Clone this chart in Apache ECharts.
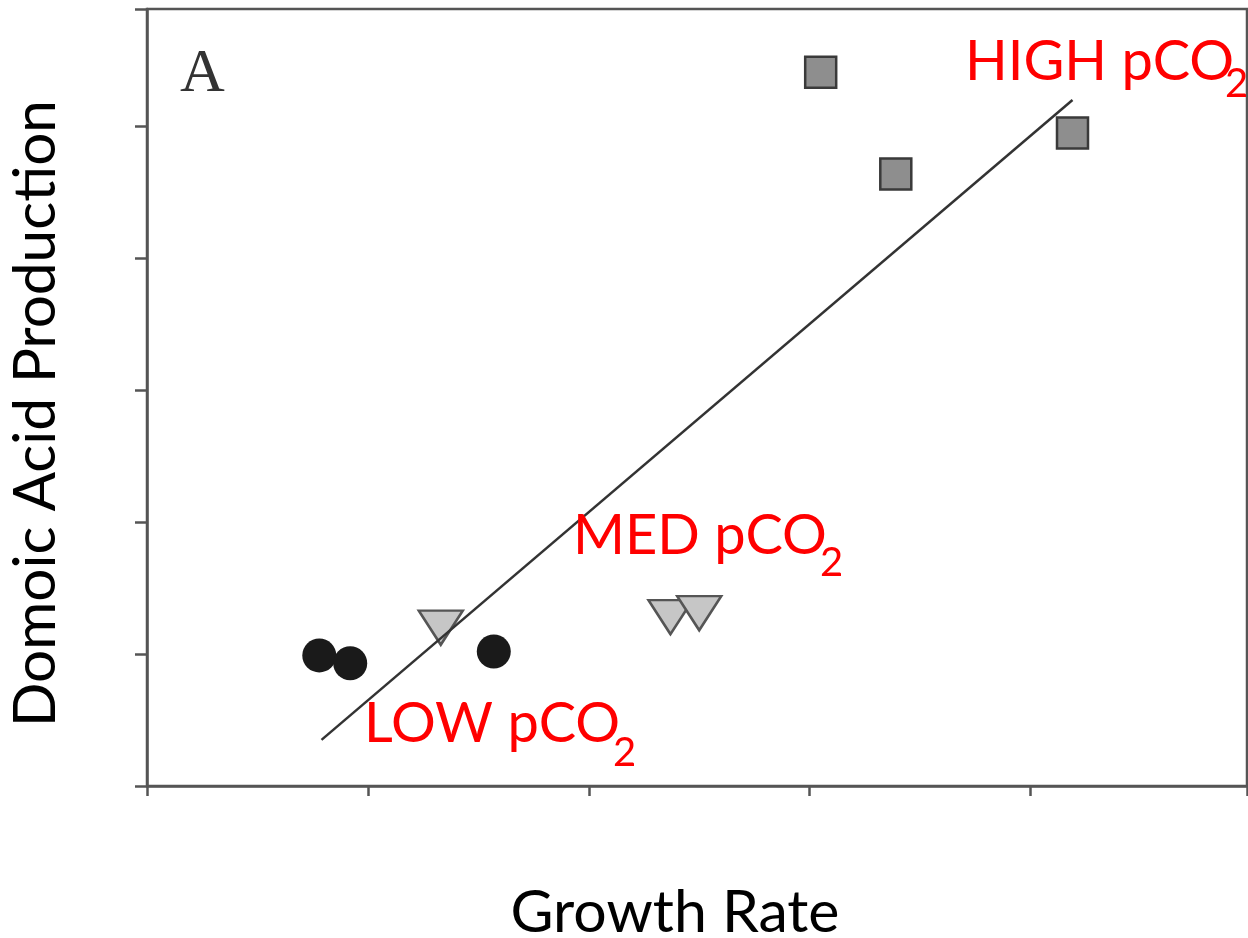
<!DOCTYPE html>
<html>
<head>
<meta charset="utf-8">
<script src="https://cdn.jsdelivr.net/npm/echarts@6/dist/echarts.min.js"></script>
<style>html,body{margin:0;padding:0;background:#fff;}#c{width:1248px;height:938px;}</style>
</head>
<body>
<div id="c"></div>
<script>
// Data (arbitrary units)
const lowX  = [0.78, 0.92, 1.57];
const lowY  = [0.99, 0.93, 1.02];
const medX  = [1.33, 2.37, 2.50];
const medY  = [1.20, 1.28, 1.31];
const highX = [3.05, 3.39, 4.19];
const highY = [5.41, 4.64, 4.95];
const fitX  = [0.79, 4.19];
const fitY  = [0.35, 5.20];
const xTicks = [0, 1, 2, 3, 4];
const yTicks = [0, 1, 2, 3, 4, 5];
const xMax = 4.98, yMax = 5.89;
const xTitle = 'Growth Rate';
const yTitle = 'Domoic Acid Production';
const panelLabel = 'A';
const groupLabels = ['LOW pCO', 'MED pCO', 'HIGH pCO'];
const subscript = '2';

const zip = (a, b) => a.map((v, i) => [v, b[i]]);
const chart = echarts.init(document.getElementById('c'), null, {renderer: 'canvas'});
const axisColor = '#555';
const txtFont = 'Lato, "Open Sans", sans-serif';

const labelFont = 56, subFont = 40;
function groupText(x, yTop, main, subX, subTop) {
  return [
    {type: 'text', left: x, top: yTop, z: 100,
     style: {text: main, fill: '#ff0000', font: labelFont + 'px ' + txtFont}},
    {type: 'text', left: subX, top: subTop, z: 100,
     style: {text: subscript, fill: '#ff0000', font: subFont + 'px ' + txtFont}}
  ];
}

chart.setOption({
  animation: false,
  backgroundColor: '#fff',
  grid: {left: 147, right: 1, top: 9, bottom: 152, show: true, outerBoundsMode: 'none', containLabel: false,
         borderColor: axisColor, borderWidth: 2.5, backgroundColor: 'transparent'},
  xAxis: {
    type: 'value', min: xTicks[0], max: xMax, interval: 1,
    name: xTitle, nameLocation: 'middle', nameGap: 97,
    nameTextStyle: {fontSize: 59, color: '#000', fontFamily: txtFont, padding: [0, 44, 0, 0]},
    axisLine: {show: true, onZero: false, lineStyle: {color: axisColor, width: 2.5}},
    axisTick: {show: true, inside: false, length: 10, lineStyle: {color: axisColor, width: 2.5}},
    axisLabel: {show: false},
    splitLine: {show: false}
  },
  yAxis: {
    type: 'value', min: yTicks[0], max: yMax, interval: 1,
    name: yTitle, nameLocation: 'middle', nameGap: 81, nameRotate: 90,
    nameTextStyle: {fontSize: 58.5, color: '#000', fontFamily: txtFont, padding: [0, 32, 0, 0]},
    axisLine: {show: true, onZero: false, lineStyle: {color: axisColor, width: 2.5}},
    axisTick: {show: true, inside: false, length: 12, lineStyle: {color: axisColor, width: 2.5}},
    axisLabel: {show: false},
    splitLine: {show: false}
  },
  series: [
    {type: 'scatter', name: 'MED', data: zip(medX, medY), symbol: 'triangle', symbolRotate: 180,
     symbolSize: [44, 34], z: 2,
     itemStyle: {color: '#c6c6c6', borderColor: '#555', borderWidth: 2.5, opacity: 1}},
    {type: 'line', name: 'fit', data: zip(fitX, fitY), symbol: 'none', z: 3,
     lineStyle: {color: '#333', width: 2.5}},
    {type: 'scatter', name: 'LOW', data: zip(lowX, lowY), symbol: 'circle', symbolSize: 34, z: 4,
     itemStyle: {color: '#1a1a1a', opacity: 1}},
    {type: 'scatter', name: 'HIGH', data: zip(highX, highY), symbol: 'rect', symbolSize: 31, z: 4,
     itemStyle: {color: '#8e8e8e', borderColor: '#3a3a3a', borderWidth: 2.5, opacity: 1}}
  ],
  graphic: [
    {type: 'text', left: 180, top: 44, z: 100,
     style: {text: panelLabel, fill: '#333', font: '62px "Liberation Serif", serif'}},
    ...groupText(364, 696, groupLabels[0], 613, 733),
    ...groupText(573, 508, groupLabels[1], 820, 543),
    ...groupText(965, 34, groupLabels[2], 1225, 64)
  ]
});
</script>
</body>
</html>
